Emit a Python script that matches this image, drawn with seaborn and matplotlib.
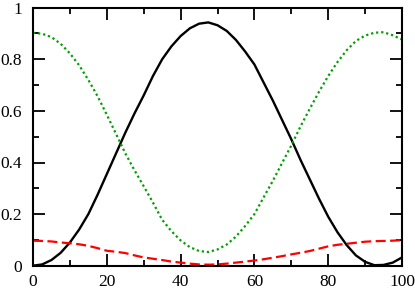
import numpy as np
import pandas as pd
import matplotlib
matplotlib.use("Agg")
import matplotlib.pyplot as plt
import seaborn as sns
from matplotlib.ticker import FuncFormatter, MultipleLocator

# values, step 2.5 on x
x = np.arange(0, 100.1, 2.5)

black = [0.0, 0.005, 0.022, 0.05, 0.09, 0.14, 0.2, 0.275, 0.355, 0.435,
         0.515, 0.59, 0.66, 0.735, 0.80, 0.85, 0.89, 0.92, 0.938, 0.943,
         0.932, 0.91, 0.875, 0.83, 0.78, 0.71, 0.64, 0.565, 0.49, 0.41,
         0.335, 0.26, 0.19, 0.13, 0.08, 0.04, 0.015, 0.002, 0.003, 0.012,
         0.032]

red = [0.097, 0.096, 0.094, 0.09, 0.087, 0.083, 0.077, 0.068, 0.058, 0.054,
       0.049, 0.04, 0.032, 0.027, 0.022, 0.016, 0.012, 0.008, 0.005, 0.004,
       0.005, 0.008, 0.012, 0.016, 0.02, 0.025, 0.031, 0.037, 0.044, 0.05,
       0.057, 0.066, 0.075, 0.081, 0.085, 0.089, 0.093, 0.095, 0.096, 0.097,
       0.099]

green = [0.903, 0.899, 0.886, 0.86, 0.823, 0.777, 0.72, 0.657, 0.585, 0.511,
         0.436, 0.37, 0.308, 0.245, 0.178, 0.134, 0.098, 0.072, 0.057, 0.053,
         0.063, 0.082, 0.113, 0.154, 0.2, 0.265, 0.329, 0.398, 0.466, 0.54,
         0.608, 0.674, 0.735, 0.789, 0.835, 0.871, 0.892, 0.903, 0.905, 0.893,
         0.877]

x_ticks = [0, 20, 40, 60, 80, 100]
y_ticks = [0, 0.2, 0.4, 0.6, 0.8, 1]

sns.set_style("ticks")
plt.rcParams['font.family'] = ['Liberation Serif', 'DejaVu Serif']

fig = plt.figure(figsize=(4.15, 2.91), dpi=100)
ax = fig.add_axes([33 / 415, 1 - 265.7 / 291, 369 / 415, 258 / 291])

sns.lineplot(x=x, y=black, color='black', lw=1.7, ax=ax)
sns.lineplot(x=x, y=red, color='#ff0000', lw=1.6, linestyle=(0, (4.5, 2)), ax=ax)
sns.lineplot(x=x, y=green, color='#00a000', lw=1.6, linestyle=(0, (1, 1.3)), ax=ax)

ax.set_xlim(0, 100)
ax.set_ylim(0, 1)
ax.set_xticks(x_ticks)
ax.set_yticks(y_ticks)
ax.xaxis.set_minor_locator(MultipleLocator(10))
ax.yaxis.set_minor_locator(MultipleLocator(0.1))
ax.yaxis.set_major_formatter(FuncFormatter(lambda v, p: f"{v:g}"))

for s in ax.spines.values():
    s.set_visible(True)
    s.set_linewidth(1.5)
    s.set_color('black')

ax.tick_params(which='both', direction='in', top=True, right=True,
               colors='black', labelsize=12.5)
ax.tick_params(axis='x', pad=6)
ax.tick_params(axis='y', pad=8)
ax.tick_params(which='major', length=8.5, width=1.3)
ax.tick_params(which='minor', length=4.5, width=1.3)

fig.savefig('out.png', dpi=100)
